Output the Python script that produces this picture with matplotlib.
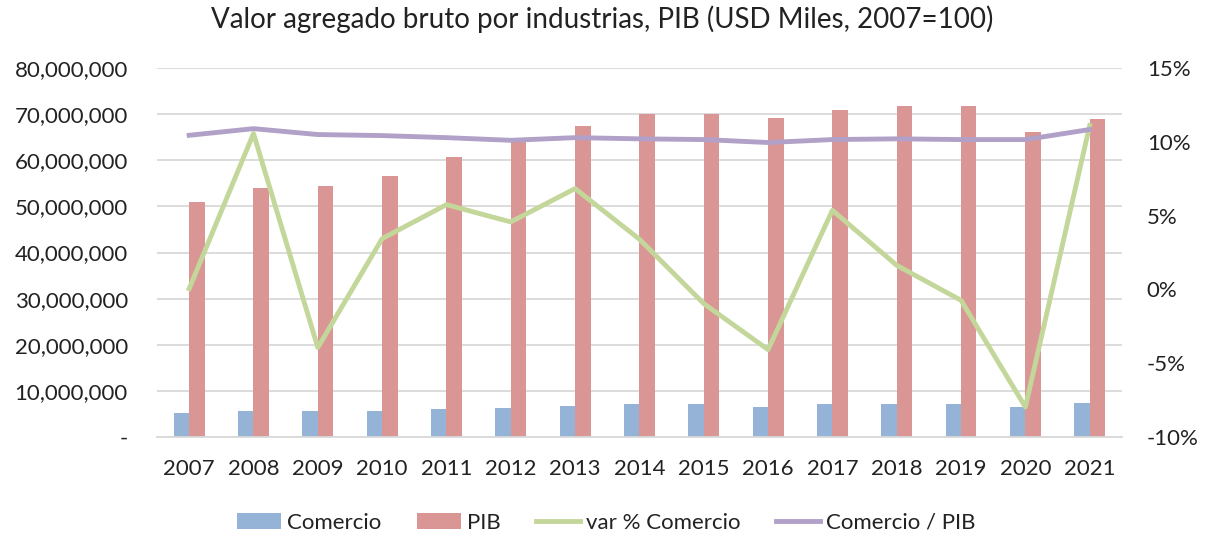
"""Valor agregado bruto por industrias - barras y lineas."""

import matplotlib
matplotlib.use('Agg')
from matplotlib import pyplot as plt
from matplotlib.ticker import FuncFormatter
import numpy as np

YEARS = ['2007', '2008', '2009', '2010', '2011', '2012', '2013', '2014',
         '2015', '2016', '2017', '2018', '2019', '2020', '2021']
COMERCIO = [5.14e6, 5.58e6, 5.58e6, 5.58e6, 6.07e6, 6.3e6, 6.8e6, 7.1e6,
            7.1e6, 6.6e6, 7.1e6, 7.1e6, 7.1e6, 6.6e6, 7.3e6]
PIB = [50.9e6, 54.0e6, 54.5e6, 56.5e6, 60.7e6, 64.0e6, 67.5e6, 70.1e6,
       70.1e6, 69.1e6, 70.9e6, 71.8e6, 71.8e6, 66.2e6, 68.9e6]
VAR_COMERCIO = [0.05, 10.56, -3.94, 3.44, 5.74, 4.57, 6.83, 3.4,
                -0.96, -4.08, 5.36, 1.63, -0.74, -7.97, 11.1]
COMERCIO_PIB = [10.44, 10.89, 10.49, 10.42, 10.28, 10.1, 10.28, 10.2,
                10.15, 9.95, 10.15, 10.2, 10.15, 10.15, 10.83]

BLUE = '#95B3D7'
RED = '#DA9694'
GREEN = '#C4D79B'
PURPLE = '#B1A0C7'
GRID = '#D9D9D9'
TEXT = '#222222'


def left_fmt(val, _):
    """Excel accounting style."""
    if val == 0:
        return '-'
    return f'{val:,.0f}'


def main():
    """Draw and save."""
    plt.rcParams['font.family'] = ['Lato', 'DejaVu Sans']
    fig = plt.figure(figsize=(12.05, 5.34), dpi=100)
    ax = fig.add_axes([0.1303, 0.1816, 0.8007, 0.6911])
    x = np.arange(len(YEARS))
    width = 0.24
    ax.bar(x - width / 2, COMERCIO, width, color=BLUE, label='Comercio',
           zorder=2)
    ax.bar(x + width / 2, PIB, width, color=RED, label='PIB', zorder=2)
    ax.set_xlim(-0.5, len(YEARS) - 0.5)
    ax.set_ylim(0, 80e6)
    ax.set_yticks(np.arange(0, 80e6 + 1, 10e6))
    ax.yaxis.set_major_formatter(FuncFormatter(left_fmt))
    ax.set_xticks(x)
    ax.set_xticklabels(YEARS)
    ax.grid(axis='y', color=GRID, linewidth=1.3, zorder=0)
    ax.set_axisbelow(True)
    for side in ('top', 'left', 'right'):
        ax.spines[side].set_visible(False)
    ax.spines['bottom'].set_color(GRID)
    ax.spines['bottom'].set_linewidth(1.3)
    ax.tick_params(length=0, labelsize=16, colors=TEXT)
    ax.tick_params(axis='y', pad=21)
    ax.tick_params(axis='x', pad=16)

    ax2 = ax.twinx()
    ax2.plot(x, VAR_COMERCIO, color=GREEN, linewidth=3.5,
             label='var % Comercio', zorder=3)
    ax2.plot(x, COMERCIO_PIB, color=PURPLE, linewidth=3.5,
             label='Comercio / PIB', zorder=3)
    ax2.set_ylim(-10, 15)
    ax2.set_yticks(np.arange(-10, 16, 5))
    ax2.yaxis.set_major_formatter(FuncFormatter(lambda v, _: f'{v:.0f}%'))
    for side in ('top', 'left', 'right', 'bottom'):
        ax2.spines[side].set_visible(False)
    ax2.tick_params(length=0, labelsize=16, colors=TEXT, pad=18)

    fig.suptitle('Valor agregado bruto por industrias, PIB (USD Miles, 2007=100)',
                 fontsize=20, x=0.5, y=0.99, color=TEXT)
    h1, l1 = ax.get_legend_handles_labels()
    h2, l2 = ax2.get_legend_handles_labels()
    leg = fig.legend(h1 + h2, l1 + l2, loc='lower center', ncol=4,
                     frameon=False, fontsize=16, bbox_to_anchor=(0.503, -0.035),
                     handlelength=2.0, handletextpad=0.25, columnspacing=1.6)
    for text in leg.get_texts():
        text.set_color(TEXT)
    fig.savefig('out.png', dpi=100)


if __name__ == '__main__':
    main()
